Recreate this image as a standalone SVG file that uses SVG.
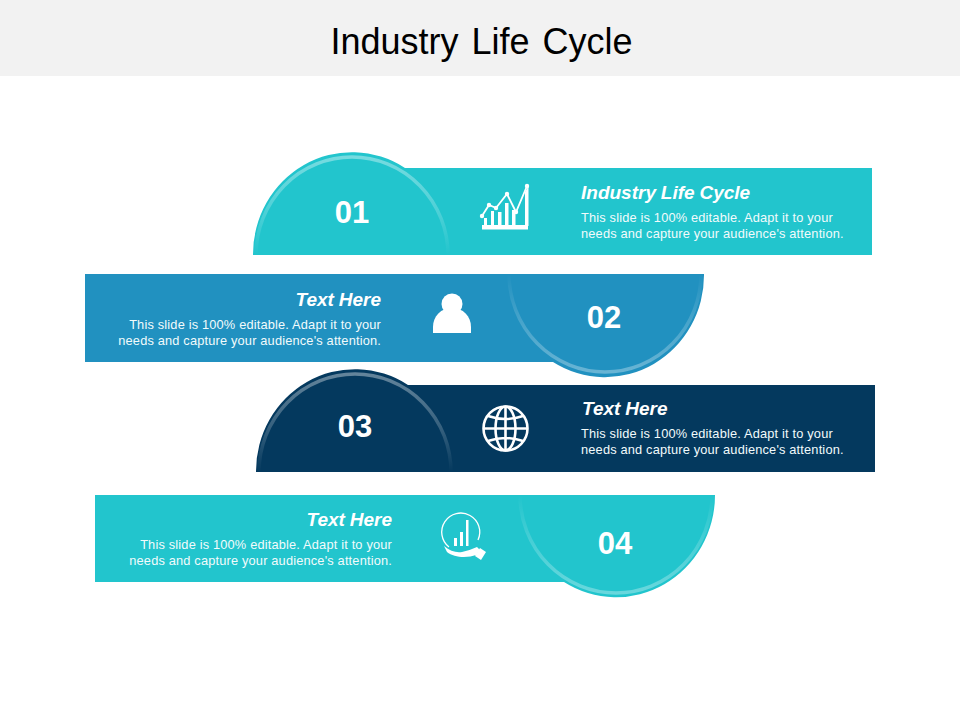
<svg xmlns="http://www.w3.org/2000/svg" width="960" height="720" viewBox="0 0 960 720">
<defs>
<linearGradient id="fadeDown" x1="0" y1="0" x2="0" y2="1">
<stop offset="0" stop-color="#fff" stop-opacity=".38"/><stop offset=".55" stop-color="#fff" stop-opacity=".2"/><stop offset="1" stop-color="#fff" stop-opacity="0"/>
</linearGradient>
<linearGradient id="fadeUp" x1="0" y1="1" x2="0" y2="0">
<stop offset="0" stop-color="#fff" stop-opacity=".32"/><stop offset=".55" stop-color="#fff" stop-opacity=".16"/><stop offset="1" stop-color="#fff" stop-opacity="0"/>
</linearGradient>
</defs>
<style>
text{font-family:"Liberation Sans",Arial,sans-serif;fill:#fff}
.num{font-size:31px;font-weight:700;text-anchor:middle}
.h{font-size:19px;font-weight:700;font-style:italic;word-spacing:-.4px}
.b{font-size:12.8px;fill:#f2fbfc;letter-spacing:.175px}
.r{text-anchor:end}
.ringD{fill:none;stroke:url(#fadeDown);stroke-width:3.5}
.ringU{fill:none;stroke:url(#fadeUp);stroke-width:3.5}
.ico{fill:none;stroke:#fff;stroke-width:2.6}
.fil{fill:#fff}
</style>
<rect width="960" height="76" fill="#f2f2f2"/>
<text x="481.500" y="54" font-size="36" text-anchor="middle" style="fill:#000" word-spacing="3">Industry Life Cycle</text>

<g id="node-01">
<path fill="#22c5cd" d="M253 255A99 102 0 0 1 405 168H872V255Z"/>
<path class="ringD" d="M256 255A96 98 0 0 1 448 255"/>
<text class="num" x="352" y="223">01</text>
<g>
<rect class="fil" x="482" y="225" width="46" height="4.500"/>
<rect class="fil" x="484" y="218" width="3" height="8"/>
<rect class="fil" x="491" y="211" width="3" height="15"/>
<rect class="fil" x="498" y="212" width="3.500" height="14"/>
<rect class="fil" x="505" y="203" width="3.500" height="23"/>
<rect class="fil" x="512" y="210" width="3.500" height="16"/>
<path class="fil" d="M525 192L528.500 186V226H525Z"/>
<path class="ico" style="stroke-width:1.800" d="M482 216L489 205L496 208L507 194L516 212L527 186"/>
<circle class="fil" cx="482" cy="216" r="2.200"/><circle class="fil" cx="489" cy="205" r="2.200"/><circle class="fil" cx="496" cy="208" r="2.200"/><circle class="fil" cx="507" cy="194" r="2.200"/><circle class="fil" cx="516" cy="212" r="2.200"/><circle class="fil" cx="527" cy="186" r="2.200"/>
</g>
<text class="h" x="581" y="199">Industry Life Cycle</text>
<text class="b" x="581" y="222">This slide is 100% editable. Adapt it to your</text>
<text class="b" x="581" y="238">needs and capture your audience's attention.</text>
</g>

<g id="node-02">
<path fill="#2191c0" d="M85 274H704A99 102 0 0 1 553 362H85Z"/>
<path class="ringU" d="M509 274A96 98 0 0 0 701 274"/>
<text class="num" x="604" y="328">02</text>
<g>
<circle class="fil" cx="452" cy="304" r="10.500"/>
<path class="fil" d="M433 333V327C433 316 441 308 452 308C463 308 471 316 471 327V333Z"/>
</g>
<text class="h r" x="381" y="306">Text Here</text>
<text class="b r" x="381" y="329">This slide is 100% editable. Adapt it to your</text>
<text class="b r" x="381" y="345">needs and capture your audience's attention.</text>
</g>

<g id="node-03">
<path fill="#04395e" d="M256 472A99 102 0 0 1 408 385H875V472Z"/>
<path class="ringD" d="M259 472A96 98 0 0 1 451 472"/>
<text class="num" x="355" y="437">03</text>
<g class="ico">
<circle cx="505.500" cy="428.500" r="22"/>
<ellipse cx="505.500" cy="428.500" rx="10" ry="22"/>
<path d="M505.500 406.500V450.500M483.500 428.500H527.500M488 416Q505.500 422 523 416M488 441Q505.500 435 523 441"/>
</g>
<text class="h" x="582" y="415">Text Here</text>
<text class="b" x="581" y="438">This slide is 100% editable. Adapt it to your</text>
<text class="b" x="581" y="454">needs and capture your audience's attention.</text>
</g>

<g id="node-04">
<path fill="#22c5cd" d="M95 495H715A99 102 0 0 1 564 582H95Z"/>
<path class="ringU" d="M520 495A96 98 0 0 0 712 495"/>
<text class="num" x="615" y="554">04</text>
<g>
<path fill="none" stroke="#fff" stroke-width="1.300" d="M449 547A19 19 0 1 1 478 540"/>
<path class="fil" d="M454 538H457V546H454ZM460 532H463V546H460ZM466 520H468.500V546H466ZM444 546C450 551 456 553 462 552C467 551 472 549 477 547L480 550L476 555C468 558 454 558 447 552Z"/>
<path class="fil" d="M480 548L486 552L481 560L475 556Z"/>
</g>
<text class="h r" x="392" y="526">Text Here</text>
<text class="b r" x="392" y="549">This slide is 100% editable. Adapt it to your</text>
<text class="b r" x="392" y="565">needs and capture your audience's attention.</text>
</g>
</svg>
